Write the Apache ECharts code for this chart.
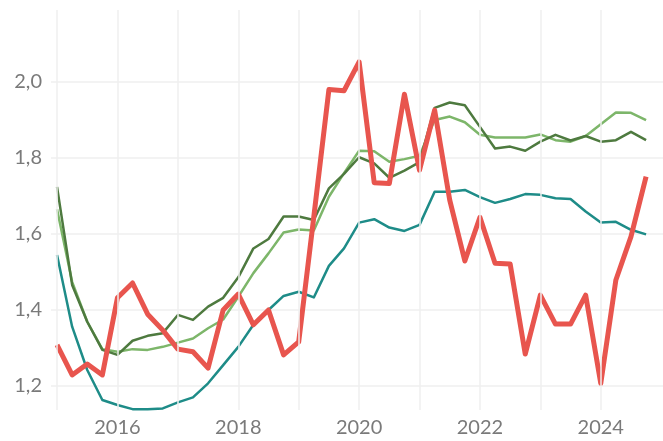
<!DOCTYPE html>
<html>
<head>
<meta charset="utf-8">
<script src="https://cdn.jsdelivr.net/npm/echarts@6/dist/echarts.min.js"></script>
<style>
  html, body { margin: 0; padding: 0; background: #fff; }
  #chart { width: 663px; height: 441px; }
</style>
</head>
<body>
<div id="chart"></div>
<script>
// Quarterly observations, 2015 Q1 .. 2024 Q4
const quarters = Array.from({ length: 40 }, (_, i) => 2015 + i * 0.25)

const redSeries = [
  1.308, 1.229, 1.258, 1.229, 1.432, 1.471, 1.389, 1.347, 1.297, 1.290,
  1.247, 1.400, 1.442, 1.361, 1.400, 1.282, 1.316, 1.645, 1.980, 1.977,
  2.053, 1.735, 1.733, 1.968, 1.768, 1.926, 1.689, 1.529, 1.644, 1.523,
  1.521, 1.284, 1.439, 1.363, 1.363, 1.439, 1.207, 1.479, 1.593, 1.751
]
const darkGreenSeries = [
  1.724, 1.466, 1.369, 1.295, 1.282, 1.319, 1.332, 1.339, 1.387, 1.374,
  1.409, 1.432, 1.486, 1.562, 1.587, 1.646, 1.646, 1.637, 1.720, 1.758,
  1.802, 1.786, 1.748, 1.767, 1.789, 1.932, 1.946, 1.939, 1.882, 1.825,
  1.830, 1.819, 1.843, 1.861, 1.846, 1.858, 1.843, 1.847, 1.869, 1.847
]
const lightGreenSeries = [
  1.665, 1.474, 1.369, 1.297, 1.290, 1.297, 1.295, 1.303, 1.314, 1.325,
  1.352, 1.375, 1.435, 1.497, 1.549, 1.604, 1.612, 1.609, 1.698, 1.760,
  1.819, 1.818, 1.790, 1.797, 1.806, 1.900, 1.909, 1.894, 1.861, 1.854,
  1.854, 1.854, 1.862, 1.847, 1.843, 1.858, 1.889, 1.920, 1.919, 1.900
]
const tealSeries = [
  1.545, 1.356, 1.242, 1.163, 1.150, 1.139, 1.139, 1.141, 1.157, 1.170,
  1.207, 1.255, 1.303, 1.361, 1.400, 1.437, 1.448, 1.433, 1.516, 1.562,
  1.630, 1.639, 1.617, 1.608, 1.624, 1.711, 1.711, 1.716, 1.697, 1.682,
  1.692, 1.705, 1.703, 1.694, 1.692, 1.659, 1.630, 1.632, 1.611, 1.599
]

const yearGrid = [2015, 2016, 2017, 2018, 2019, 2020, 2021, 2022, 2023, 2024]
const yearLabels = [2016, 2018, 2020, 2022, 2024]
const yTicks = [1.2, 1.4, 1.6, 1.8, 2.0]

const pair = vals => quarters.map((q, i) => [q, vals[i]])

const gridColor = '#efefef'
const textStyle = { fontFamily: 'Lato, sans-serif', fontSize: 20, color: '#7a7a7a' }

const chart = echarts.init(document.getElementById('chart'), null, { renderer: 'canvas' })

chart.setOption({
  animation: false,
  backgroundColor: '#ffffff',
  grid: { left: 51, right: 0, top: 10, bottom: 31, containLabel: false },
  xAxis: {
    type: 'value',
    min: 2014.9,
    max: 2025.03,
    axisLine: { show: false },
    axisTick: { show: false },
    splitLine: { show: false },
    axisLabel: {
      customValues: yearLabels,
      margin: 8,
      ...textStyle,
      formatter: v => String(v)
    }
  },
  yAxis: {
    type: 'value',
    min: 1.1368,
    max: 2.1895,
    axisLine: { show: false },
    axisTick: { show: false, customValues: yTicks },
    splitLine: { show: true, lineStyle: { color: gridColor, width: 1.5 } },
    axisLabel: {
      customValues: yTicks,
      margin: 9,
      ...textStyle,
      formatter: v => v.toFixed(1).replace('.', ',')
    }
  },
  series: [
    {
      // vertical year gridlines
      type: 'line',
      data: [],
      silent: true,
      z: 0,
      markLine: {
        silent: true,
        symbol: 'none',
        label: { show: false },
        lineStyle: { color: gridColor, width: 1.5, type: 'solid' },
        data: yearGrid.map(y => ({ xAxis: y }))
      }
    },
    {
      name: 'teal',
      type: 'line',
      data: pair(tealSeries),
      showSymbol: false,
      lineStyle: { color: '#1e8c88', width: 2.5, join: 'round' },
      itemStyle: { color: '#1e8c88' }
    },
    {
      name: 'light green',
      type: 'line',
      data: pair(lightGreenSeries),
      showSymbol: false,
      lineStyle: { color: '#7db66a', width: 2.5, join: 'round' },
      itemStyle: { color: '#7db66a' }
    },
    {
      name: 'dark green',
      type: 'line',
      data: pair(darkGreenSeries),
      showSymbol: false,
      lineStyle: { color: '#4e7a3f', width: 2.5, join: 'round' },
      itemStyle: { color: '#4e7a3f' }
    },
    {
      name: 'red',
      type: 'line',
      data: pair(redSeries),
      showSymbol: false,
      lineStyle: { color: '#e8554e', width: 5, join: 'round', cap: 'butt' },
      itemStyle: { color: '#e8554e' }
    }
  ]
})
</script>
</body>
</html>
